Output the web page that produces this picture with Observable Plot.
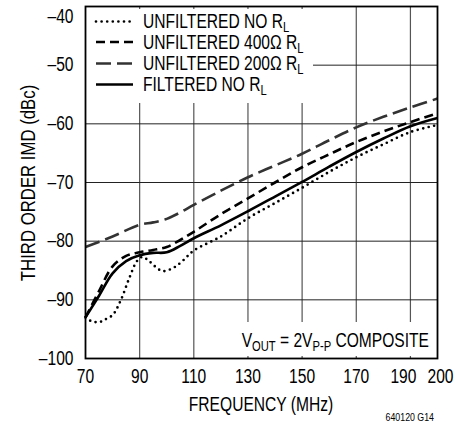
<!DOCTYPE html>
<html>
<head>
<meta charset="utf-8">
<script src="https://cdn.jsdelivr.net/npm/d3@7"></script>
<script src="https://cdn.jsdelivr.net/npm/@observablehq/plot@0.6"></script>
<style>
  body { margin: 0; background: #fff; }
  svg text { font-family: "Liberation Sans", Arial, sans-serif; }
</style>
</head>
<body>
<div id="chart"></div>
<script>
// ---- data ----
const xTicks = [70, 90, 110, 130, 150, 170, 190, 200];
const yTicks = [-100, -90, -80, -70, -60, -50, -40];
const xGrid = [90, 110, 130, 150, 170, 190];
const yGrid = [-90, -80, -70, -60, -50];

const seriesNames = ["UNFILTERED NO R", "UNFILTERED 400Ω R", "UNFILTERED 200Ω R", "FILTERED NO R"];

const unfNoFreq = [70, 72, 75, 77, 80, 83, 86, 89, 91, 94, 97, 99, 103, 106, 110, 120, 130, 140, 150, 160, 170, 180, 190, 200];
const unfNoVal  = [-93, -93.6, -93.8, -93.4, -92.6, -90.1, -86.5, -83.4, -82.7, -83.6, -84.8, -85.1, -84.4, -83.3, -81.6, -79.2, -76.1, -73.5, -70.9, -68.2, -65.7, -63.5, -61.4, -60.2];

const unf400Freq = [70, 75, 80, 85, 90, 95, 100, 105, 110, 120, 130, 140, 150, 160, 170, 180, 190, 200];
const unf400Val  = [-93, -88.5, -84.3, -82.5, -81.9, -81.5, -81.0, -79.8, -78.4, -75.4, -72.7, -70.0, -67.4, -65.2, -63.1, -61.3, -59.7, -58.2];

const unf200Freq = [70, 80, 90, 95, 100, 105, 110, 120, 130, 140, 150, 160, 170, 180, 190, 200];
const unf200Val  = [-81, -79.2, -77.2, -76.8, -76.2, -75.1, -73.8, -71.4, -69.1, -67.1, -65.1, -62.8, -60.6, -58.8, -57.2, -55.7];

const filtNoFreq = [70, 75, 80, 85, 90, 95, 100, 105, 110, 120, 130, 140, 150, 160, 170, 180, 190, 200];
const filtNoVal  = [-93, -89.3, -85.5, -83.4, -82.4, -82.0, -81.9, -80.8, -79.5, -77.3, -74.9, -72.4, -69.9, -67.3, -64.8, -62.5, -60.4, -59.0];

const toRows = (f, v) => f.map((x, i) => ({f: x, v: v[i]}));

const styles = [
  {stroke: "#000", dash: "0 5.6", cap: "round", width: 2.7},
  {stroke: "#000", dash: "9 5", cap: "butt", width: 2.6},
  {stroke: "#333", dash: "15 6", cap: "butt", width: 2.6},
  {stroke: "#000", dash: null, cap: "butt", width: 2.6}
];
const seriesData = [
  toRows(unfNoFreq, unfNoVal),
  toRows(unf400Freq, unf400Val),
  toRows(unf200Freq, unf200Val),
  toRows(filtNoFreq, filtNoVal)
];

const W = 471, H = 425;
const mL = 85, mR = 34, mT = 6, mB = 67;
const NS = "http://www.w3.org/2000/svg";
const SQ = 0.8; // horizontal condensing of the type

const lineMarks = seriesData.map((d, i) => Plot.line(d, {
  x: "f", y: "v", curve: "catmull-rom",
  stroke: styles[i].stroke, strokeWidth: styles[i].width,
  strokeDasharray: styles[i].dash || undefined,
  strokeLinecap: styles[i].cap, strokeLinejoin: "round"
}));

// white panels behind legend and annotation (drawn above grid, below curves)
function panels() {
  const g = document.createElementNS(NS, "g");
  g.setAttribute("class", "panels");
  [[86, 9, 227, 94], [228, 322, 208, 34]].forEach(([x, y, w, h]) => {
    const r = document.createElementNS(NS, "rect");
    r.setAttribute("x", x); r.setAttribute("y", y);
    r.setAttribute("width", w); r.setAttribute("height", h);
    r.setAttribute("fill", "#fff");
    g.appendChild(r);
  });
  return g;
}

const fmt = d => d < 0 ? "–" + Math.abs(d) : String(d);

const svgEl = Plot.plot({
  width: W, height: H,
  marginLeft: mL, marginRight: mR, marginTop: mT, marginBottom: mB,
  style: {fontSize: "19.5px", background: "#fff", color: "#000", overflow: "visible"},
  x: {domain: [70, 200], ticks: xTicks, tickSize: 0, tickPadding: 11, tickFormat: fmt, label: null},
  y: {domain: [-100, -40], ticks: yTicks, tickSize: 0, tickPadding: 12, tickFormat: fmt, label: null},
  marks: [
    Plot.ruleX(xGrid, {stroke: "#555", strokeWidth: 1.2}),
    Plot.ruleY(yGrid, {stroke: "#222", strokeWidth: 1}),
    panels,
    ...lineMarks,
    Plot.frame({stroke: "#000", strokeWidth: 1.8})
  ]
});
document.getElementById("chart").appendChild(svgEl);

// condense the axis tick labels horizontally (positions untouched)
svgEl.querySelectorAll("text").forEach(t => {
  const L = t.getComputedTextLength();
  if (L > 0) {
    t.setAttribute("textLength", (L * SQ).toFixed(2));
    t.setAttribute("lengthAdjust", "spacingAndGlyphs");
  }
  const s = t.textContent;
  if (s === "190") t.setAttribute("dx", -7);
  if (s === "200") t.setAttribute("dx", 3);
  if (s === "–40") t.setAttribute("dy", "0.5em");
});

// fallback if function marks were ignored
if (!svgEl.querySelector("g.panels")) {
  const firstLine = svgEl.querySelector('g[aria-label="line"]');
  const p = panels();
  if (firstLine) firstLine.parentNode.insertBefore(p, firstLine);
}

const svg = d3.select(svgEl);
function label(x, y, size, anchor, sq = SQ, extra = "") {
  return svg.append("text")
    .attr("transform", `translate(${x},${y}) ${extra} scale(${sq},1)`)
    .attr("text-anchor", anchor).attr("font-size", size).attr("fill", "#000");
}

// legend
const legY = [21.5, 42, 63.5, 84.5];
const legBase = [27.5, 48.5, 70, 91];
seriesNames.forEach((name, i) => {
  const s = styles[i];
  svg.append("line")
    .attr("x1", 96).attr("x2", 133).attr("y1", legY[i]).attr("y2", legY[i])
    .attr("stroke", s.stroke).attr("stroke-width", s.width)
    .attr("stroke-dasharray", s.dash)
    .attr("stroke-linecap", s.cap);
  const t = label(143, legBase[i], 19.5, "start");
  t.append("tspan").text(name);
  t.append("tspan").attr("dy", 4).attr("font-size", 14).text("L");
});

// annotation
const ann = label(429, 347, 19.5, "end");
ann.append("tspan").text("V");
ann.append("tspan").attr("dy", 4).attr("font-size", 14).text("OUT");
ann.append("tspan").attr("dy", -4).text(" = 2V");
ann.append("tspan").attr("dy", 4).attr("font-size", 14).text("P-P");
ann.append("tspan").attr("dy", -4).text(" COMPOSITE");

// axis titles and figure code
label(261, 411, 19.5, "middle").text("FREQUENCY (MHz)");
label(35, 183, 19.5, "middle", 0.86, "rotate(-90)").text("THIRD ORDER IMD (dBc)");
label(434, 421, 11, "end").text("640120 G14");
</script>
</body>
</html>
